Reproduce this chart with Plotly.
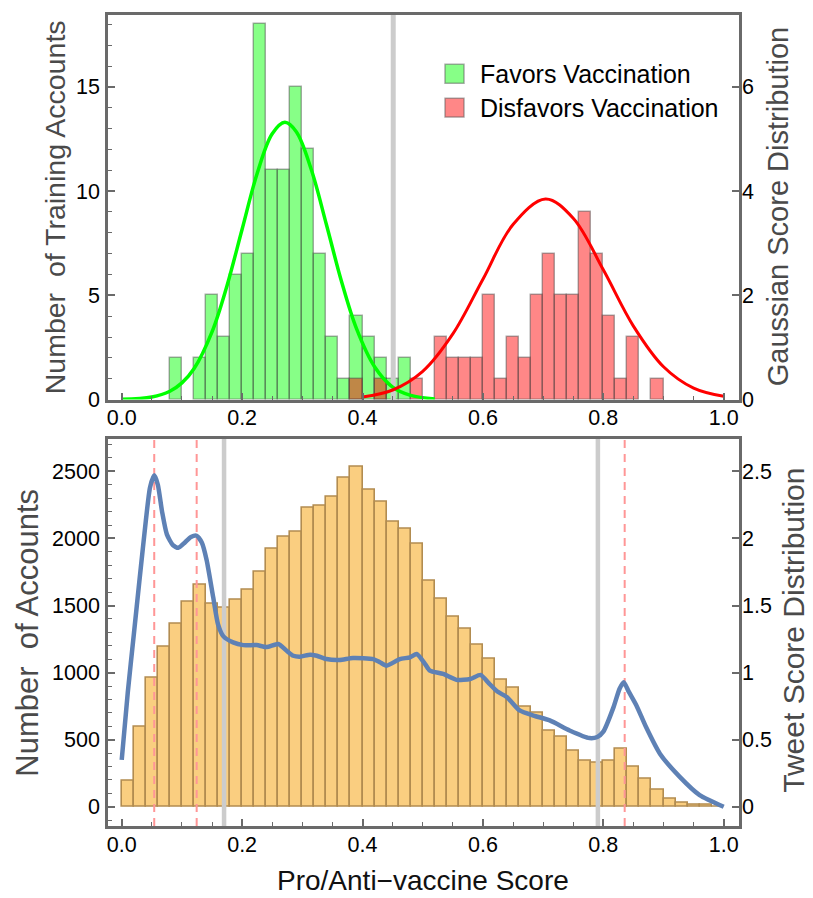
import plotly.graph_objects as go

# ---------------- DATA ----------------
# Top panel: training accounts histogram (bin width 0.02, left edges)
green_bin_left = [0.08, 0.12, 0.14, 0.16, 0.18, 0.20, 0.22, 0.24, 0.26, 0.28,
                  0.30, 0.32, 0.34, 0.36, 0.38, 0.40, 0.42, 0.44, 0.46]
green_counts = [2, 2, 5, 3, 6, 7, 18, 11, 11, 15, 12, 7, 3, 1, 4, 3, 2, 1, 2]

red_bin_left = [0.38, 0.42, 0.48, 0.52, 0.54, 0.56, 0.58, 0.60, 0.62, 0.64, 0.66,
                0.68, 0.70, 0.72, 0.74, 0.76, 0.78, 0.80, 0.82, 0.84, 0.88]
red_counts = [1, 1, 1, 3, 2, 2, 2, 5, 1, 3, 2, 5, 7, 5, 5, 9, 7, 4, 1, 3, 1]

# Gaussian score distributions
green_curve_x = [0.0, 0.05, 0.08, 0.10, 0.12, 0.15, 0.175, 0.20, 0.225, 0.25, 0.271,
                 0.29, 0.315, 0.34, 0.365, 0.39, 0.42, 0.45, 0.48, 0.52]
green_curve_y = [0.005, 0.05, 0.16, 0.32, 0.59, 1.30, 2.19, 3.27, 4.34, 5.10, 5.32,
                 5.14, 4.41, 3.36, 2.27, 1.36, 0.63, 0.24, 0.08, 0.013]
red_curve_x = [0.40, 0.45, 0.50, 0.55, 0.60, 0.65, 0.704, 0.75, 0.80, 0.85, 0.90, 0.95, 1.00]
red_curve_y = [0.049, 0.184, 0.542, 1.26, 2.31, 3.36, 3.85, 3.48, 2.49, 1.41, 0.63, 0.22, 0.062]

top_threshold = [0.451]

# Bottom panel: all accounts histogram (bin width 0.02, from 0.0 to 1.0)
bottom_bin_left = [round(0.02 * i, 2) for i in range(50)]
bottom_counts = [193, 594, 965, 1195, 1361, 1525, 1658, 1517, 1480, 1542,
                 1621, 1755, 1921, 2010, 2047, 2228, 2242, 2309, 2455, 2537,
                 2361, 2277, 2124, 2069, 1960, 1688, 1552, 1416, 1329, 1205,
                 1106, 948, 886, 743, 698, 569, 520, 416, 346, 329,
                 346, 431, 297, 213, 124, 60, 30, 14, 12, 0]

tweet_x = [0.000, 0.010, 0.020, 0.030, 0.040, 0.047, 0.054, 0.060, 0.067, 0.075,
           0.085, 0.094, 0.105, 0.115, 0.1245, 0.133, 0.141, 0.152, 0.160, 0.169,
           0.185, 0.202, 0.224, 0.241, 0.260, 0.274, 0.285, 0.296, 0.313, 0.324,
           0.340, 0.362, 0.384, 0.418, 0.429, 0.440, 0.462, 0.479, 0.490, 0.504,
           0.512, 0.534, 0.556, 0.579, 0.596, 0.610, 0.624, 0.640, 0.661, 0.684,
           0.711, 0.744, 0.777, 0.790, 0.800, 0.817, 0.827, 0.834, 0.842, 0.855,
           0.871, 0.894, 0.927, 0.960, 1.000]
tweet_y = [0.35, 0.85, 1.28, 1.71, 2.13, 2.38, 2.47, 2.40, 2.20, 2.03,
           1.95, 1.93, 1.97, 2.01, 2.02, 1.97, 1.84, 1.56, 1.36, 1.27,
           1.225, 1.205, 1.205, 1.19, 1.213, 1.163, 1.126, 1.119, 1.134, 1.126,
           1.101, 1.094, 1.109, 1.101, 1.077, 1.052, 1.101, 1.114, 1.139, 1.064,
           1.015, 0.99, 0.946, 0.953, 0.983, 0.92, 0.859, 0.817, 0.718, 0.68,
           0.644, 0.569, 0.512, 0.52, 0.56, 0.743, 0.88, 0.928, 0.86, 0.755,
           0.594, 0.396, 0.223, 0.087, 0.0]

bottom_gray_lines = [0.17, 0.791]
bottom_pink_lines = [0.054, 0.1245, 0.8355]

x_tickvals = [0.0, 0.2, 0.4, 0.6, 0.8, 1.0]
x_ticktext = ["0.0", "0.2", "0.4", "0.6", "0.8", "1.0"]
bottom_right_tickvals = [0, 0.5, 1, 1.5, 2, 2.5]
bottom_right_ticktext = ["0", "0.5", "1", "1.5", "2", "2.5"]

legend_labels = ["Favors Vaccination", "Disfavors Vaccination"]

# ---------------- STYLE ----------------
W, H = 813, 898
FONT = "Liberation Sans, Arial, sans-serif"
FRAME = "#6a6a6a"
BW = 0.02
XR = [-0.0228, 1.0254]
Y1R = [0, 18.45]
Y2R = [0, 7.38]
Y3R = [-143, 2743]
Y4R = [-0.143, 2.743]

GREEN_FILL = "rgba(0,255,0,0.47)"
RED_FILL = "rgba(255,0,0,0.47)"
BAR_EDGE = "rgba(70,70,70,0.45)"

fig = go.Figure()

# top histograms
fig.add_trace(go.Bar(x=[b + BW / 2 for b in green_bin_left], y=green_counts, width=BW,
                     marker=dict(color=GREEN_FILL, line=dict(color=BAR_EDGE, width=1.5)),
                     xaxis="x", yaxis="y", showlegend=False))
fig.add_trace(go.Bar(x=[b + BW / 2 for b in red_bin_left], y=red_counts, width=BW,
                     marker=dict(color=RED_FILL, line=dict(color=BAR_EDGE, width=1.5)),
                     xaxis="x", yaxis="y", showlegend=False))
# threshold line (top)
for t in top_threshold:
    fig.add_trace(go.Scatter(x=[t, t], y=Y2R, mode="lines",
                             line=dict(color="#cccccc", width=5),
                             xaxis="x", yaxis="y2", showlegend=False, hoverinfo="skip"))
# gaussian curves
fig.add_trace(go.Scatter(x=green_curve_x, y=green_curve_y, mode="lines",
                         line=dict(color="rgb(0,255,0)", width=3.5, shape="spline"),
                         xaxis="x", yaxis="y2", showlegend=False))
fig.add_trace(go.Scatter(x=red_curve_x, y=red_curve_y, mode="lines",
                         line=dict(color="rgb(255,0,0)", width=3, shape="spline"),
                         xaxis="x", yaxis="y2", showlegend=False))

# bottom histogram
fig.add_trace(go.Bar(x=[b + BW / 2 for b in bottom_bin_left], y=bottom_counts, width=BW,
                     marker=dict(color="rgb(250,206,128)", line=dict(color="rgb(178,140,80)", width=1.6)),
                     xaxis="x2", yaxis="y3", showlegend=False))
for t in bottom_gray_lines:
    fig.add_trace(go.Scatter(x=[t, t], y=Y4R, mode="lines",
                             line=dict(color="#cccccc", width=4.5),
                             xaxis="x2", yaxis="y4", showlegend=False, hoverinfo="skip"))
for t in bottom_pink_lines:
    fig.add_trace(go.Scatter(x=[t, t], y=Y4R, mode="lines",
                             line=dict(color="rgb(255,150,150)", width=2, dash="8px,6px"),
                             xaxis="x2", yaxis="y4", showlegend=False, hoverinfo="skip"))
fig.add_trace(go.Scatter(x=tweet_x, y=tweet_y, mode="lines",
                         line=dict(color="rgb(94,129,181)", width=4.5, shape="spline", smoothing=0.6),
                         xaxis="x2", yaxis="y4", showlegend=False))

# ---------------- LAYOUT ----------------
ml, mr, mt, mb = 108, 74, 12, 72
pw = W - ml - mr
ph = H - mt - mb


def px_to_paper_y(py):
    return (H - mb - py) / ph


def px_to_paper_x(px):
    return (px - ml) / pw


top_dom = [px_to_paper_y(398), 1.0]
bot_dom = [0.0, px_to_paper_y(437.3)]

tickfont = dict(family=FONT, size=21.5, color="black")

common_x = dict(range=XR, tickvals=x_tickvals, ticktext=x_ticktext, ticks="inside",
                ticklen=7, tickwidth=1.5, tickcolor=FRAME, showline=True, linecolor=FRAME,
                linewidth=2.5, mirror=True, showgrid=False, zeroline=False, tickfont=tickfont,
                minor=dict(dtick=0.05, tick0=0, ticks="inside", ticklen=4, tickwidth=1.2, tickcolor=FRAME),
                ticklabelstandoff=-3)

left_y = dict(ticks="inside", ticklen=7, tickwidth=1.5, tickcolor=FRAME, showline=True,
              linecolor=FRAME, linewidth=2.5, mirror=True, showgrid=False, zeroline=False,
              tickfont=tickfont, ticklabelstandoff=1)
right_y = dict(ticks="inside", ticklen=7, tickwidth=1.5, tickcolor=FRAME, showline=False,
               showgrid=False, zeroline=False, tickfont=tickfont, side="right", ticklabelstandoff=2)

fig.update_layout(
    width=W, height=H, margin=dict(l=ml, r=mr, t=mt, b=mb),
    paper_bgcolor="white", plot_bgcolor="white", barmode="overlay", bargap=0,
    font=dict(family=FONT, size=20, color="black"),
    xaxis=dict(common_x, domain=[0, 1], anchor="y"),
    yaxis=dict(left_y, domain=top_dom, range=Y1R, anchor="x", tickvals=[0, 5, 10, 15],
               minor=dict(dtick=1, tick0=0, ticks="inside", ticklen=4, tickwidth=1.2, tickcolor=FRAME)),
    yaxis2=dict(right_y, overlaying="y", anchor="x", range=Y2R, tickvals=[0, 2, 4, 6]),
    xaxis2=dict(common_x, domain=[0, 1], anchor="y3"),
    yaxis3=dict(left_y, domain=bot_dom, range=Y3R, anchor="x2",
                tickvals=[0, 500, 1000, 1500, 2000, 2500],
                minor=dict(dtick=100, tick0=0, ticks="inside", ticklen=4, tickwidth=1.2, tickcolor=FRAME)),
    yaxis4=dict(right_y, overlaying="y3", anchor="x2", range=Y4R,
                tickvals=bottom_right_tickvals, ticktext=bottom_right_ticktext),
)

TITLE_GRAY = "#4a4a4a"
ann = []
ann.append(dict(text="Number  of Training Accounts", x=px_to_paper_x(55), y=px_to_paper_y(205),
                xref="paper", yref="paper", textangle=-90, showarrow=False,
                font=dict(family=FONT, size=28.5, color=TITLE_GRAY), xanchor="center", yanchor="middle"))
ann.append(dict(text="Gaussian Score Distribution", x=px_to_paper_x(778), y=px_to_paper_y(205),
                xref="paper", yref="paper", textangle=-90, showarrow=False,
                font=dict(family=FONT, size=29, color=TITLE_GRAY), xanchor="center", yanchor="middle"))
ann.append(dict(text="Number  of Accounts", x=px_to_paper_x(28), y=px_to_paper_y(632),
                xref="paper", yref="paper", textangle=-90, showarrow=False,
                font=dict(family=FONT, size=31, color=TITLE_GRAY), xanchor="center", yanchor="middle"))
ann.append(dict(text="Tweet Score Distribution", x=px_to_paper_x(794), y=px_to_paper_y(630),
                xref="paper", yref="paper", textangle=-90, showarrow=False,
                font=dict(family=FONT, size=30, color=TITLE_GRAY), xanchor="center", yanchor="middle"))
ann.append(dict(text="Pro/Anti\u2212vaccine Score", x=px_to_paper_x(423), y=px_to_paper_y(881),
                xref="paper", yref="paper", showarrow=False,
                font=dict(family=FONT, size=28, color="#111111"), xanchor="center", yanchor="middle"))

# legend (manual)
leg_fills = [GREEN_FILL, RED_FILL]
leg_centers = [71, 105]
shapes = []
for lab, fill, cy in zip(legend_labels, leg_fills, leg_centers):
    shapes.append(dict(type="rect", xref="paper", yref="paper",
                       x0=px_to_paper_x(445), x1=px_to_paper_x(464),
                       y0=px_to_paper_y(cy + 9.5), y1=px_to_paper_y(cy - 9.5),
                       fillcolor=fill, line=dict(color="rgba(90,90,90,0.5)", width=1.5)))
    ann.append(dict(text=lab, x=px_to_paper_x(478), y=px_to_paper_y(cy), xref="paper", yref="paper",
                    showarrow=False, xanchor="left", yanchor="middle",
                    font=dict(family=FONT, size=25, color="black")))

fig.update_layout(annotations=ann, shapes=shapes)

fig.write_html("out.html")
